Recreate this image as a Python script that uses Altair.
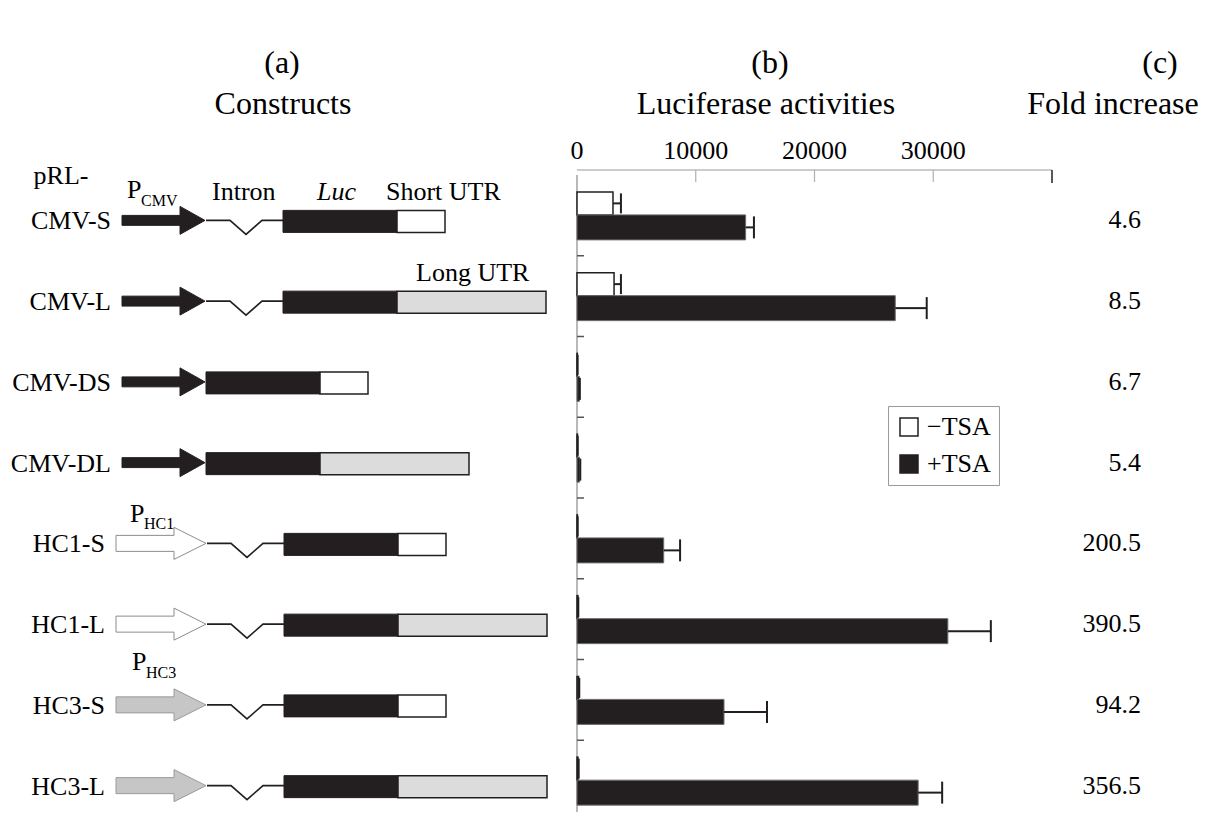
import altair as alt
import pandas as pd

# ---------------- data ----------------
constructs = ["CMV-S", "CMV-L", "CMV-DS", "CMV-DL", "HC1-S", "HC1-L", "HC3-S", "HC3-L"]
promoter = ["CMV", "CMV", "CMV", "CMV", "HC1", "HC1", "HC3", "HC3"]
has_intron = [True, True, False, False, True, True, True, True]
utr = ["Short", "Long", "Short", "Long", "Short", "Long", "Short", "Long"]

minus_tsa = [3030, 3120, 30, 40, 36, 80, 131, 81]
minus_err = [670, 580, 20, 20, 20, 30, 60, 60]
plus_tsa = [14200, 26800, 200, 216, 7300, 31230, 12380, 28730]
plus_err = [700, 2650, 40, 60, 1380, 3620, 3620, 2020]
fold = [4.6, 8.5, 6.7, 5.4, 200.5, 390.5, 94.2, 356.5]

ticks = [0, 10000, 20000, 30000, 40000]

# schematic element lengths (drawing units)
prom_start = {"CMV": 122, "HC1": 116, "HC3": 116}
prom_len = {"CMV": 83, "HC1": 90, "HC3": 90}
intron_len = 77
luc_len = 114
utr_len = {"Short": 48, "Long": 149}

# ---------------- tables ----------------
rows = []
for i, c in enumerate(constructs):
    p = promoter[i]
    s = prom_start[p]
    e = s + prom_len[p]
    i0 = e + 1
    l0 = i0 + (intron_len if has_intron[i] else 0)
    l1 = l0 + luc_len
    u1 = l1 + utr_len[utr[i]]
    rows.append(dict(construct=c, row=i, promoter=p, intron=has_intron[i], utr=utr[i],
                     p0=s, pmid=(s + e) / 2, imid=i0 + intron_len / 2,
                     l0=l0, l1=l1, u1=u1, fold=fold[i]))
cdf = pd.DataFrame(rows)

brows = []
for i, c in enumerate(constructs):
    brows.append(dict(construct=c, row=i, sign="minus", tsa="\u2212TSA", value=minus_tsa[i], err=minus_err[i]))
    brows.append(dict(construct=c, row=i, sign="plus", tsa="+TSA", value=plus_tsa[i], err=plus_err[i]))
bdf = pd.DataFrame(brows)
tdf = pd.DataFrame({"tick": ticks})

# ---------------- styles ----------------
FONT = "Liberation Serif"
INK = "#231f20"
CMV_ARROW = "M-1,-0.12L0.398,-0.12L0.398,-0.337L1,0L0.398,0.337L0.398,0.12L-1,0.12Z"
HC_ARROW = "M-1,-0.178L0.289,-0.178L0.289,-0.356L1,0L0.289,0.356L0.289,0.178L-1,0.178Z"
INTRON = "M-1,0L-0.377,0L0.039,0.364L0.455,0L1,0"

sx = alt.Scale(domain=[8, 1203], range=[0, 1195], nice=False, zero=False)
bx = alt.Scale(domain=[0, 40000], range=[569, 1044], nice=False)
sy = alt.Scale(domain=[-0.5, 7.5], range=[162, 818], nice=False, zero=False)
Y = alt.Y("row:Q", scale=sy, axis=None)

# ---------------- (a) constructs ----------------
cb = alt.Chart(cdf)
labels = cb.mark_text(align="right", baseline="middle", dx=-11, dy=6, font=FONT,
                      fontSize=26, color="black").encode(
    x=alt.X("p0:Q", scale=sx, axis=None), y=Y, text="construct:N")

def arrow_layer(p, shape, size, fill, stroke):
    return cb.transform_filter(f"datum.promoter == '{p}'").mark_point(
        shape=shape, size=size, filled=True, fill=fill, stroke=stroke,
        strokeWidth=1, opacity=1, yOffset=5).encode(
        x=alt.X("pmid:Q", scale=sx, axis=None), y=Y)

arr_cmv = arrow_layer("CMV", CMV_ARROW, 83 * 83, INK, INK)
arr_hc1 = arrow_layer("HC1", HC_ARROW, 90 * 90, "white", "#8c8c8c")
arr_hc3 = arrow_layer("HC3", HC_ARROW, 90 * 90, "#c6c6c6", "#9a9a9a")

intron = cb.transform_filter("datum.intron").mark_point(
    shape=INTRON, size=intron_len * intron_len, filled=False, stroke=INK,
    strokeWidth=1.6, opacity=1, yOffset=5).encode(
    x=alt.X("imid:Q", scale=sx, axis=None), y=Y)

luc = cb.mark_bar(orient="horizontal", size=22, fill=INK, stroke=INK, strokeWidth=1,
                  opacity=1, yOffset=6).encode(
    x=alt.X("l0:Q", scale=sx, axis=None), x2="l1:Q", y=Y)
utr_s = cb.transform_filter("datum.utr == 'Short'").mark_bar(
    orient="horizontal", size=22, fill="white", stroke=INK, strokeWidth=1.5,
    opacity=1, yOffset=6).encode(x=alt.X("l1:Q", scale=sx, axis=None), x2="u1:Q", y=Y)
utr_l = cb.transform_filter("datum.utr == 'Long'").mark_bar(
    orient="horizontal", size=22, fill="#dcdcdc", stroke=INK, strokeWidth=1.5,
    opacity=1, yOffset=6).encode(x=alt.X("l1:Q", scale=sx, axis=None), x2="u1:Q", y=Y)

one = alt.Data(values=[{}])
annotations = [
    # text, x(left/center), row, dy, size, align, style
    ("pRL-", 61, 0, -31, 26, "center", "normal"),
    ("P", 127, 0, -17, 26, "left", "normal"),
    ("CMV", 141, 0, -9, 16, "left", "normal"),
    ("Intron", 212, 0, -15, 26, "left", "normal"),
    ("Luc", 317, 0, -15, 26, "left", "italic"),
    ("Short UTR", 386, 0, -15, 26, "left", "normal"),
    ("Long UTR", 416, 1, -15, 26, "left", "normal"),
    ("P", 130, 4, -16, 26, "left", "normal"),
    ("HC1", 144, 4, -9, 16, "left", "normal"),
    ("P", 132, 6, -30, 26, "left", "normal"),
    ("HC3", 146, 6, -22, 16, "left", "normal"),
]
ann_layers = []
for t, x, r, dy, fs, al, st in annotations:
    ann_layers.append(alt.Chart(one).mark_text(
        text=t, font=FONT, fontSize=fs, align=al, baseline="alphabetic", dy=dy,
        fontStyle=st, color="black").encode(
        x=alt.XDatum(x, scale=sx, type="quantitative", axis=None),
        y=alt.YDatum(r, scale=sy, type="quantitative", axis=None)))

fold_txt = cb.mark_text(align="right", baseline="middle", dy=5, font=FONT, fontSize=26,
                        color="black").encode(
    x=alt.value(1133), y=Y, text=alt.Text("fold:Q", format=".1f"))

schem = alt.layer(labels, arr_cmv, arr_hc1, arr_hc3, intron, luc, utr_s, utr_l,
                  fold_txt, *ann_layers)

# ---------------- (b) luciferase bars ----------------
bb = alt.Chart(bdf).transform_calculate(hi="datum.value + datum.err")
BX = alt.X("value:Q", scale=bx, axis=None)
HX = alt.X("hi:Q", scale=bx, axis=None)
mb = bb.transform_filter("datum.sign == 'minus'")
pb = bb.transform_filter("datum.sign == 'plus'")

legend = alt.Legend(title=None, orient="none", legendX=880, legendY=398,
                    direction="vertical", symbolType="square", symbolSize=324,
                    symbolStrokeColor=INK, symbolStrokeWidth=1.5, symbolOpacity=1,
                    labelFont=FONT, labelFontSize=26, labelColor="black",
                    labelOffset=5, strokeColor="#9a9a9a", fillColor="white",
                    padding=8, rowPadding=11)
fill = alt.Fill("tsa:N", scale=alt.Scale(domain=["\u2212TSA", "+TSA"], range=["white", INK]),
                legend=legend)

minus_bars = mb.mark_bar(orient="horizontal", size=23, yOffset=-12, stroke=INK,
                         strokeWidth=1.5, opacity=1).encode(x=BX, y=Y, fill=fill)
plus_bars = pb.mark_bar(orient="horizontal", size=25, yOffset=12, stroke="#6d6d6d",
                        strokeWidth=1, opacity=1).encode(x=BX, y=Y, fill=fill)
minus_wh = mb.mark_rule(yOffset=-12, color=INK, strokeWidth=2).encode(x=BX, x2="hi:Q", y=Y)
plus_wh = pb.mark_rule(yOffset=12, color=INK, strokeWidth=2).encode(x=BX, x2="hi:Q", y=Y)
minus_cap = mb.mark_rule(yOffset=-22, y2Offset=-2, color=INK, strokeWidth=2).encode(
    x=HX, y=Y, y2="row:Q")
plus_cap = pb.mark_rule(yOffset=1, y2Offset=23, color=INK, strokeWidth=2).encode(
    x=HX, y=Y, y2="row:Q")

tc = alt.Chart(tdf)
TX = alt.X("tick:Q", scale=bx, axis=None)
top_line = tc.mark_rule(color="#9a9a9a", strokeWidth=1.2).encode(
    x=alt.X("min(tick):Q", scale=bx, axis=None), x2="max(tick):Q", y=alt.value(162))
tick_grey = tc.transform_filter("datum.tick > 0 && datum.tick < 40000").mark_rule(
    color="#b0b0b0", strokeWidth=1.2).encode(x=TX, y=alt.value(162), y2=alt.value(174))
tick_end = tc.transform_filter("datum.tick == 40000").mark_rule(
    color=INK, strokeWidth=1.5).encode(x=TX, y=alt.value(162), y2=alt.value(175))
tick_lab = tc.transform_filter("datum.tick < 40000").mark_text(
    baseline="alphabetic", font=FONT, fontSize=26, color="black").encode(
    x=TX, y=alt.value(151), text=alt.Text("tick:Q", format="d"))

left_axis = cb.transform_filter("datum.row == 0").mark_rule(color="#8a8a8a", strokeWidth=1.2).encode(
    x=alt.XDatum(0, scale=bx, type="quantitative", axis=None),
    y=alt.YDatum(-0.5, scale=sy, type="quantitative", axis=None),
    y2=alt.Y2Datum(7.5))
row_ticks = cb.transform_filter("datum.row < 7").transform_calculate(
    b="datum.row + 0.5").mark_rule(x2Offset=7, color="#555555", strokeWidth=1.5).encode(
    x=alt.XDatum(0, scale=bx, type="quantitative", axis=None),
    x2=alt.X2Datum(0), y=alt.Y("b:Q", scale=sy, axis=None))

bars = alt.layer(left_axis, row_ticks, top_line, tick_grey, tick_end, tick_lab,
                 minus_bars, plus_bars, minus_wh, plus_wh, minus_cap, plus_cap)

# ---------------- headers ----------------
headers = [("(a)", 274, 55), ("Constructs", 275, 96),
           ("(b)", 762, 55), ("Luciferase activities", 758, 96),
           ("(c)", 1152, 55), ("Fold increase", 1105, 96)]
hdr = alt.layer(*[
    alt.Chart(one).mark_text(text=t, font=FONT, fontSize=32, align="center",
                             baseline="middle", color="black").encode(
        x=alt.value(x), y=alt.value(y))
    for t, x, y in headers])

chart = alt.layer(schem, bars, hdr).resolve_scale(x="independent").properties(
    width=1195, height=804, autosize=alt.AutoSizeParams(type="none"), padding=0,
    background="white").configure_view(stroke=None)

chart.save("out.html", embed_options={"renderer": "svg", "actions": False})
